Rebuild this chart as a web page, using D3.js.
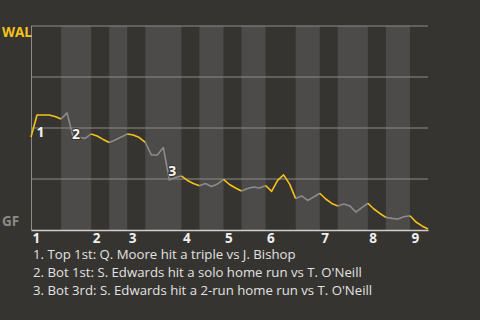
<!DOCTYPE html>
<html>
<head>
<meta charset="utf-8">
<script src="https://cdn.jsdelivr.net/npm/d3@7"></script>
<style>
  body { margin: 0; background: #363430; }
  svg { display: block; font-family: "Open Sans", sans-serif; }
</style>
</head>
<body>
<script>
// plate appearances in each half inning (top 1, bot 1, top 2, ...)
const halfPA = [5, 5, 3, 3, 3, 6, 3, 4, 3, 4, 5, 4, 3, 5, 3, 4, 3];

// WAL win probability (%) after each plate appearance, starting before the first pitch
const walWP = [
    45.6, 56.4, 56.4, 56.4, 55.6, 54.4,
    57.4, 45.6, 45.6, 44.9, 47.1,
    46.1, 44.4, 42.9,
    44.1, 45.6, 47.1,
    46.6, 45.3, 42.9,
    36.8, 36.8, 40.4, 24.5, 25.7, 26.5,
    24.3, 22.8, 21.7,
    22.8, 21.3, 22.5, 24.8,
    22.3, 20.6, 19.1,
    20.3, 21.1, 20.6, 21.8,
    18.9, 24.3, 27.0, 22.5, 15.4,
    16.7, 14.5, 16.2, 18.0,
    15.2, 13.0, 11.8,
    12.7, 11.8, 8.8, 11.0, 13.1,
    10.3, 8.1, 6.2,
    5.7, 5.4, 6.5, 7.0,
    3.9, 2.0, 0.5
];

const teams = ["WAL", "GF"];
const innings = ["1", "2", "3", "4", "5", "6", "7", "8", "9"];

const notes = [
    {pa: 1, text: "1. Top 1st: Q. Moore hit a triple vs J. Bishop"},
    {pa: 7, text: "2. Bot 1st: S. Edwards hit a solo home run vs T. O'Neill"},
    {pa: 23, text: "3. Bot 3rd: S. Edwards hit a 2-run home run vs T. O'Neill"}
];

const width = 480, height = 320;
const plot = {left: 31, right: 428, top: 26, bottom: 230};

// start index of each half inning
const halfStart = [0];
halfPA.forEach(function (n, i) { halfStart.push(halfStart[i] + n); });
const totalPA = halfStart[halfStart.length - 1];

const x = d3.scaleLinear().domain([0, totalPA]).range([plot.left, plot.right]);
const y = d3.scaleLinear().domain([0, 100]).range([plot.bottom, plot.top]);

const svg = d3.select("body")
    .append("svg")
    .attr("width", width)
    .attr("height", height);

// bottom-half bands
svg.selectAll("rect.band")
    .data(halfPA.map(function (n, i) { return i; }).filter(function (i) { return i % 2 === 1; }))
    .enter().append("rect")
    .attr("class", "band")
    .attr("x", function (i) { return x(halfStart[i]); })
    .attr("y", y(100))
    .attr("width", function (i) { return x(halfStart[i + 1]) - x(halfStart[i]); })
    .attr("height", y(0) - y(100))
    .attr("fill", "#4c4b49");

// gridlines
svg.selectAll("line.grid")
    .data([25, 50, 75, 100])
    .enter().append("line")
    .attr("class", "grid")
    .attr("x1", plot.left)
    .attr("x2", plot.right)
    .attr("y1", function (d) { return y(d); })
    .attr("y2", function (d) { return y(d); })
    .attr("stroke", "#8c8b89")
    .attr("stroke-width", 1);

svg.append("line")
    .attr("x1", plot.left + 0.5)
    .attr("x2", plot.left + 0.5)
    .attr("y1", y(100))
    .attr("y2", y(0))
    .attr("stroke", "#8c8b89");

// x axis: inning numbers at the start of each inning
const xAxis = d3.axisBottom(x)
    .tickValues(innings.map(function (d, i) { return halfStart[i * 2]; }))
    .tickFormat(function (d, i) { return innings[i]; })
    .tickSize(0)
    .tickSizeOuter(0)
    .tickPadding(3);

const gx = svg.append("g")
    .attr("transform", `translate(0, ${y(0)})`)
    .call(xAxis);
gx.select(".domain").attr("stroke", "#d0cfcc").attr("stroke-width", 1.5);
gx.selectAll("text")
    .attr("text-anchor", "start")
    .attr("dx", 1)
    .attr("fill", "#f0f0f0")
    .attr("font-size", 13.5)
    .attr("font-weight", "bold")
    .attr("font-family", "Open Sans, sans-serif");

// team labels
svg.append("text")
    .attr("x", 2)
    .attr("y", y(100) + 11)
    .attr("fill", "#f5c21b")
    .attr("font-size", 13.5)
    .attr("font-weight", "bold")
    .text(teams[0]);

svg.append("text")
    .attr("x", 2)
    .attr("y", y(0) - 4)
    .attr("fill", "#8c8b89")
    .attr("font-size", 13.5)
    .attr("font-weight", "bold")
    .text(teams[1]);

// win probability line, coloured by half inning
const line = d3.line()
    .x(function (d) { return x(d.i); })
    .y(function (d) { return y(d.v); });

const pts = walWP.map(function (v, i) { return {i: i, v: v}; });

svg.selectAll("path.half")
    .data(halfPA.map(function (n, h) { return h; }))
    .enter().append("path")
    .attr("class", "half")
    .attr("fill", "none")
    .attr("stroke", function (h) { return h % 2 === 0 ? "#f5c21b" : "#8c8b89"; })
    .attr("stroke-width", 1.6)
    .attr("stroke-linejoin", "round")
    .attr("d", function (h) { return line(pts.slice(halfStart[h], halfStart[h + 1] + 1)); });

// note markers on the line
const noteOffset = [[-0.5, 22.5], [-1, 2.3], [-1, -4]];
svg.selectAll("text.marker")
    .data(notes)
    .enter().append("text")
    .attr("class", "marker")
    .attr("x", function (d, i) { return x(d.pa) + noteOffset[i][0]; })
    .attr("y", function (d, i) { return y(walWP[d.pa]) + noteOffset[i][1]; })
    .attr("fill", "#f4f4f4")
    .attr("stroke", "#363430")
    .attr("stroke-width", 2)
    .attr("paint-order", "stroke")
    .attr("font-size", 14)
    .attr("font-weight", "bold")
    .text(function (d, i) { return i + 1; });

// note list under the chart
svg.selectAll("text.note")
    .data(notes)
    .enter().append("text")
    .attr("class", "note")
    .attr("x", 33)
    .attr("y", function (d, i) { return 258.5 + i * 18.3; })
    .attr("fill", "#e2e2e2")
    .attr("font-size", 13.2)
    .text(function (d) { return d.text; });
</script>
</body>
</html>
